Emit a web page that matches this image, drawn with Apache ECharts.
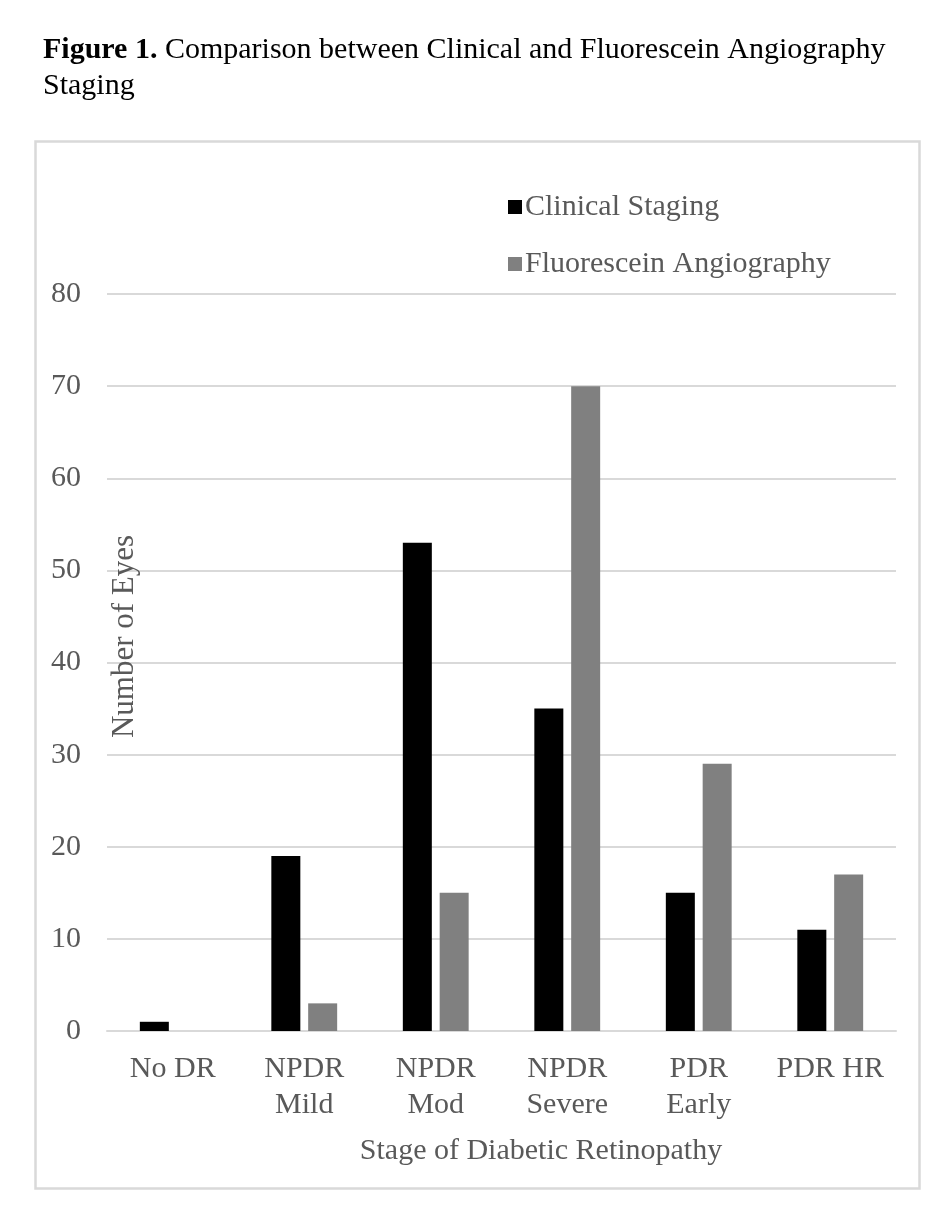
<!DOCTYPE html>
<html><head><meta charset="utf-8">
<script src="https://cdn.jsdelivr.net/npm/echarts@6/dist/echarts.min.js"></script>
<style>html,body{margin:0;padding:0;background:#fff}#c{width:952px;height:1218px}</style>
</head><body><div id="c"></div>
<script>
const categories = ['No DR', 'NPDR\nMild', 'NPDR\nMod', 'NPDR\nSevere', 'PDR\nEarly', 'PDR HR'];
const clinical = [1, 19, 53, 35, 15, 11];
const fluorescein = [0, 3, 15, 70, 29, 17];
const seriesNames = ['Clinical Staging', 'Fluorescein Angiography'];
const FONT = '"Liberation Serif", "DejaVu Serif", serif';
const chart = echarts.init(document.getElementById('c'), null, {renderer: 'canvas'});
chart.setOption({
  animation: false,
  backgroundColor: '#fff',
  textStyle: {fontFamily: FONT},
  title: {
    left: 38, top: 27,
    text: '{b|Figure 1.} Comparison between Clinical and Fluorescein Angiography\nStaging',
    textStyle: {
      fontFamily: FONT, fontSize: 30, fontWeight: 'normal', color: '#000', lineHeight: 36,
      rich: {b: {fontFamily: FONT, fontSize: 30, fontWeight: 'bold', color: '#000', lineHeight: 36}}
    }
  },
  graphic: [{
    type: 'rect', left: 33, top: 139, shape: {width: 884, height: 1047},
    style: {fill: 'none', stroke: '#d9d9d9', lineWidth: 2.5}, silent: true
  }],
  legend: {
    orient: 'vertical', left: 503, top: 187, itemWidth: 14, itemHeight: 14, itemGap: 27,
    icon: 'rect', data: seriesNames,
    textStyle: {fontFamily: FONT, fontSize: 30, color: '#595959', lineHeight: 30, padding: [0, 0, 0, -2]}
  },
  grid: {left: 107, right: 56, top: 294, bottom: 187, containLabel: false},
  xAxis: {
    type: 'category', data: categories,
    axisLine: {lineStyle: {color: '#d9d9d9', width: 2}},
    axisTick: {show: false},
    axisLabel: {fontFamily: FONT, fontSize: 30, color: '#595959', lineHeight: 36, margin: 20,
                interval: 0, hideOverlap: false},
    name: 'Stage of Diabetic Retinopathy', nameLocation: 'middle', nameGap: 105,
    nameTextStyle: {fontFamily: FONT, fontSize: 30, color: '#595959', padding: [0, 0, 0, 79]}
  },
  yAxis: {
    type: 'value', min: 0, max: 80, interval: 10,
    axisLine: {show: false}, axisTick: {show: false},
    splitLine: {lineStyle: {color: '#d9d9d9', width: 2}},
    axisLabel: {fontFamily: FONT, fontSize: 30, color: '#595959', margin: 26},
    name: 'Number of Eyes', nameLocation: 'middle', nameGap: -33, nameRotate: 90,
    nameMoveOverlap: false,
    nameTextStyle: {fontFamily: FONT, fontSize: 31, color: '#595959', padding: [0, 0, 0, 52]}
  },
  series: [
    {name: seriesNames[0], type: 'bar', data: clinical, barWidth: 29, barGap: '27%',
     itemStyle: {color: '#000000'}},
    {name: seriesNames[1], type: 'bar', data: fluorescein, barWidth: 29,
     itemStyle: {color: '#808080'}}
  ]
});
</script></body></html>
